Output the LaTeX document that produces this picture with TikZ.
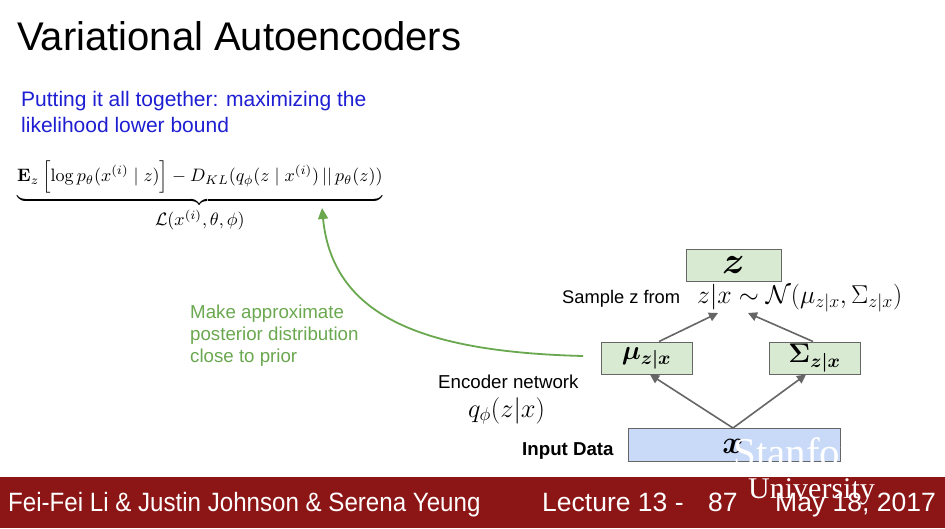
\RequirePackage{fix-cm}
\documentclass[tikz,border=0pt]{standalone}
\usepackage{amsmath,amssymb,bm}
\usepackage[no-math]{fontspec}
\setmainfont{Liberation Sans}
\newfontfamily\narrowfont[FakeStretch=0.91]{Liberation Sans}
\newfontfamily\serifwm{Liberation Serif}
\usetikzlibrary{arrows.meta,positioning}
\definecolor{slidegreen}{HTML}{6AA84F}
\definecolor{boxgreen}{HTML}{D9EAD3}
\definecolor{boxblue}{HTML}{C9DAF8}
\definecolor{footred}{HTML}{8C1515}
\definecolor{textblue}{HTML}{1E1ED2}
\definecolor{arrowgray}{HTML}{666666}
\tikzset{
  gbox/.style={draw=arrowgray, line width=1pt, fill=boxgreen, inner sep=0pt},
  garrow/.style={draw=arrowgray, line width=1.6pt, -{Triangle[length=9pt,width=9pt]}},
  lbl/.style={inner sep=0pt, anchor=base west},
  foot/.style={lbl, text=white, font=\fontsize{26.5}{30}\selectfont},
}
\begin{document}
\begin{tikzpicture}[x=1pt,y=-1pt]
\useasboundingbox (0,0) rectangle (945,528);
\fill[white] (0,0) rectangle (945,528);
% title
\node[lbl] (title) at (17,50) {\fontsize{40}{46}\selectfont Variational Autoencoders};
% blue text
\node[lbl, text=textblue] (put1) at (21,106) {\fontsize{21}{24}\selectfont Putting it all together: maximizing the};
\node[lbl, text=textblue] (put2) at (21,132) {\fontsize{21}{24}\selectfont likelihood lower bound};
% equation
\node[anchor=north west, inner sep=0pt] (eq) at (17,161) {\scalebox{1.8}{$\displaystyle \underbrace{\mathbf{E}_z\left[\log p_\theta(x^{(i)}\mid z)\right]-D_{KL}(q_\phi(z\mid x^{(i)})\,||\,p_\theta(z))}_{\textstyle\mathcal{L}(x^{(i)},\theta,\phi)}$}};
% green text
\node[lbl, text=slidegreen] (mk1) at (190,318) {\fontsize{18.7}{22}\selectfont Make approximate};
\node[lbl, text=slidegreen] (mk2) at (190,340) {\fontsize{18.7}{22}\selectfont posterior distribution};
\node[lbl, text=slidegreen] (mk3) at (190,362) {\fontsize{18.7}{22}\selectfont close to prior};
% boxes
\node[gbox, minimum width=95pt, minimum height=32pt] (z) at (733.5,265) {\fontsize{38}{38}\selectfont$\bm{z}$};
\node[gbox, minimum width=91pt, minimum height=32pt] (mu) at (646.5,358) {\fontsize{27}{27}\selectfont$\bm{\mu_{z|x}}$};
\node[gbox, minimum width=91pt, minimum height=32pt] (sig) at (814.5,358) {\fontsize{27}{27}\selectfont$\bm{\Sigma_{z|x}}$};
\node[draw=arrowgray, line width=1pt, fill=boxblue, inner sep=0pt, minimum width=212pt, minimum height=33pt] (inp) at (734,444.5) {};
\node[inner sep=0pt] (xin) at (733,446) {\fontsize{32}{32}\selectfont$\bm{x}$};
% labels
\node[lbl] (samp) at (562,303) {\fontsize{18.3}{21}\selectfont Sample z from};
\node[lbl] (dist) at (697,303) {\fontsize{25.8}{27}\selectfont$z|x\sim\mathcal{N}(\mu_{z|x},\Sigma_{z|x})$};
\node[lbl] (enc) at (438,388) {\fontsize{18.7}{21}\selectfont Encoder network};
\node[lbl] (qphi) at (468,417) {\fontsize{26.5}{27}\selectfont$q_\phi(z|x)$};
\node[lbl] (indata) at (522,455) {\fontsize{18.7}{21}\selectfont\bfseries Input Data};
% arrows
\coordinate (zin1) at (718,313);
\coordinate (zin2) at (748,313);
\coordinate (inptop) at (733,428);
\draw[garrow] (mu.north -| 659,0) -- (zin1);
\draw[garrow] (sig.north -| 813,0) -- (zin2);
\draw[garrow] (inptop) -- (mu.south -| 650,0);
\draw[garrow] (inptop) -- (sig.south -| 806,0);
% green curve
\coordinate (gstart) at (583,356);
\coordinate (gend) at (322,208);
\draw[slidegreen, line width=1.8pt, -{Triangle[length=11pt,width=10pt]}] (gstart) .. controls (430,352) and (333,320) .. (gend);
% footer
\fill[footred] (0,477) rectangle (945,528);
\node[foot] (f1) at (8,511) {\narrowfont Fei-Fei Li \& Justin Johnson \& Serena Yeung};
\node[foot] (f2) at (542,511) {Lecture 13 -};
\node[foot] (f3) at (708,511) {87};
\node[foot] (f4) at (775,511) {May 18, 2017};
% watermark
\begin{scope}
\clip (inp.south west) rectangle (inp.north east);
\node[lbl, text=white] (wm1) at (733,466) {\serifwm\fontsize{41}{41}\selectfont Stanford};
\end{scope}
\node[lbl, text=white] (wm2) at (748,498) {\serifwm\fontsize{30}{30}\selectfont University};
\end{tikzpicture}
\end{document}
